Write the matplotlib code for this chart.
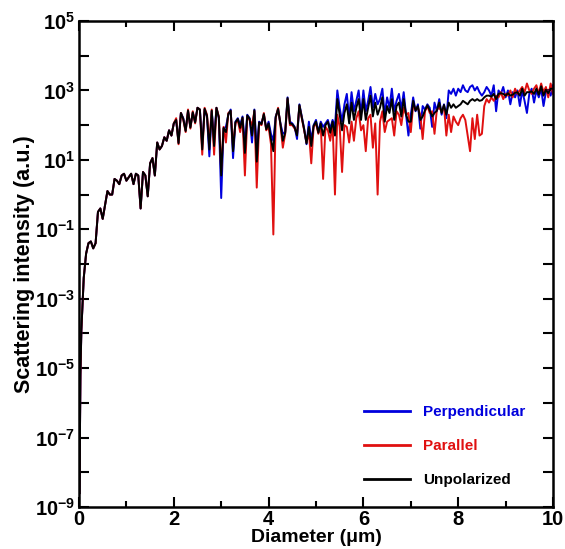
import numpy as np
import matplotlib
matplotlib.use("Agg")
import matplotlib.pyplot as plt
from matplotlib.ticker import FixedLocator, FixedFormatter, NullFormatter

plt.rcParams['font.family'] = ['Liberation Sans', 'DejaVu Sans']
plt.rcParams['font.weight'] = 'bold'
plt.rcParams['mathtext.fontset'] = 'custom'
plt.rcParams['mathtext.rm'] = 'Liberation Sans:bold'
plt.rcParams['mathtext.it'] = 'Liberation Sans:bold'
plt.rcParams['mathtext.bf'] = 'Liberation Sans:bold'

# Diameter grid (um)
diam_start = [0.01, 0.02, 0.03]
diam_step = 0.05

# log10 intensity, common part (0.01 .. 2.00 um), identical for all polarisations
common_log = [-8.6, -6.8, -5.2,
              -3.9, -2.4, -1.7, -1.4, -1.35, -1.55, -1.4, -0.5, -0.4, -0.7,
              -0.3, 0.1, 0.0, 0.0, 0.45, 0.4, 0.3, 0.55, 0.6, 0.4,
              0.5, 0.6, 0.3, 0.6, 0.55, -0.4, 0.65, 0.55, -0.05, 0.9,
              1.05, 0.55, 1.5, 1.3, 1.4, 1.65, 1.55, 1.85, 1.7, 2.05]

# log10 intensity from 2.05 to 10.00 um
perp_log = [
    2.15, 1.5, 2.35, 2.2, 1.85, 2.4, 1.95, 2.35, 2.1, 2.5,
    2.45, 1.45, 2.45, 2.25, 1.1, 2.4, 1.6, 2.5, 2.2, -0.1,
    1.9, 1.95, 2.3, 2.45, 1.05, 2.1, 2.2, 2.0, 2.25, 1.45,
    2.3, 2.2, 1.5, 2.45, 1.3, 2.1, 2.05, 2.3, 1.9, 2.1,
    1.75, 1.55, 2.25, 2.45, 2.05, 1.75, 1.8, 2.8, 2.1, 2.05,
    1.95, 1.6, 2.6, 2.25, 1.9, 1.45, 2.1, 1.55, 2.0, 2.15,
    1.8, 2.1, 1.95, 2.05, 2.15, 1.9, 2.15, 1.95, 3.0, 2.5,
    2.1, 2.6, 2.9, 2.2, 2.95, 2.4, 2.7, 3.0, 2.3, 3.0,
    2.4, 2.7, 3.1, 2.5, 2.9, 2.6, 2.75, 3.05, 2.3, 2.8,
    2.5, 3.05, 2.4, 2.7, 2.9, 2.45, 2.95, 2.3, 1.7, 2.3,
    2.8, 2.4, 2.6, 1.9, 2.55, 2.45, 2.6, 2.5, 1.95, 2.65,
    2.4, 2.75, 2.3, 2.6, 2.2, 3.0, 2.9, 3.05, 2.85, 3.05,
    2.95, 3.15, 3.0, 2.95, 3.1, 3.15, 3.0, 3.1, 2.95, 2.85,
    2.95, 3.1, 3.0, 2.85, 3.15, 2.4, 3.0, 2.9, 3.1, 2.8,
    3.0, 2.6, 2.95, 2.8, 3.0, 2.55, 3.0, 2.7, 2.35, 2.9,
    3.05, 2.65, 3.0, 2.8, 3.05, 2.55, 2.95, 3.0, 2.85, 3.15]

par_log = [
    2.2, 1.45, 2.35, 2.15, 1.8, 2.45, 1.9, 2.4, 2.05, 2.5,
    2.45, 1.15, 2.5, 2.3, 1.5, 2.45, 1.15, 2.5, 2.25, 0.7,
    1.95, 1.5, 2.35, 2.4, 1.4, 2.05, 2.15, 1.8, 2.2, 0.55,
    2.25, 2.15, 2.0, 2.4, 0.2, 2.05, 2.0, 2.35, 1.85, 1.95,
    1.45, -1.15, 2.2, 2.5, 2.0, 1.35, 1.75, 2.75, 2.0, 2.0,
    1.9, 1.75, 2.55, 2.2, 1.85, 1.5, 1.8, 0.9, 1.95, 2.05,
    1.75, 2.0, 0.45, 1.95, 1.85, 1.55, 2.05, 0.0, 2.3, 1.95,
    0.65, 2.0, 1.95, 1.5, 2.1, 1.55, 2.2, 2.4, 1.85, 2.0,
    1.25, 2.2, 2.3, 1.35, 2.05, 0.0, 2.1, 2.4, 1.8, 2.1,
    2.15, 2.2, 1.7, 2.4, 2.3, 2.0, 2.5, 2.3, 2.35, 1.8,
    2.6, 2.45, 2.5, 2.3, 1.6, 2.4, 2.55, 2.35, 2.4, 1.75,
    2.45, 2.5, 2.4, 2.55, 1.7, 2.3, 1.8, 2.25, 2.1, 2.0,
    2.2, 2.3, 2.15, 1.7, 1.25, 2.2, 1.6, 2.3, 1.7, 1.75,
    2.55, 2.75, 2.65, 2.8, 2.7, 2.85, 2.8, 2.95, 2.75, 2.9,
    2.85, 3.0, 2.8, 3.05, 2.9, 3.0, 3.1, 2.95, 3.2, 3.0,
    2.9, 3.05, 3.15, 2.9, 3.2, 2.95, 3.1, 2.8, 3.2, 2.9]

unpol_log = [
    2.15, 1.48, 2.35, 2.18, 1.83, 2.42, 1.93, 2.37, 2.08, 2.5,
    2.45, 1.3, 2.47, 2.27, 1.3, 2.42, 1.4, 2.5, 2.22, 0.55,
    1.92, 1.8, 2.32, 2.42, 1.25, 2.08, 2.18, 1.92, 2.22, 1.2,
    2.28, 2.18, 1.7, 2.43, 0.95, 2.08, 2.03, 2.32, 1.88, 2.05,
    1.6, 1.25, 2.23, 2.47, 2.03, 1.55, 1.78, 2.78, 2.05, 2.03,
    1.93, 1.7, 2.58, 2.22, 1.88, 1.47, 1.95, 1.4, 1.98, 2.1,
    1.78, 2.05, 1.7, 2.0, 2.1, 1.78, 2.1, 1.7, 2.75, 2.3,
    1.85, 2.35, 2.6, 2.05, 2.65, 2.15, 2.5, 2.75, 2.15, 2.75,
    2.15, 2.5, 2.85, 2.25, 2.65, 2.3, 2.5, 2.8, 2.1, 2.55,
    2.35, 2.75, 2.15, 2.55, 2.65, 2.25, 2.75, 2.3, 2.1, 2.1,
    2.7, 2.42, 2.55, 2.15, 2.25, 2.43, 2.57, 2.42, 2.25, 2.35,
    2.42, 2.65, 2.35, 2.58, 2.3, 2.65, 2.5, 2.6, 2.5, 2.55,
    2.6, 2.7, 2.65, 2.6, 2.7, 2.75, 2.7, 2.75, 2.7, 2.72,
    2.8, 2.85, 2.85, 2.82, 2.9, 2.75, 2.9, 2.92, 2.9, 2.85,
    2.92, 2.85, 2.88, 2.93, 2.95, 2.85, 3.05, 2.85, 2.95, 2.95,
    2.97, 2.9, 3.05, 2.88, 3.12, 2.85, 3.02, 2.92, 3.05, 3.05]

n_common = len(common_log) - len(diam_start)
x_common = np.concatenate([diam_start, diam_step * np.arange(1, n_common + 1)])
x_rest = 2.0 + diam_step * np.arange(1, len(perp_log) + 1)
diam = np.concatenate([x_common, x_rest])

perp = 10.0 ** np.array(common_log + perp_log)
par = 10.0 ** np.array(common_log + par_log)
unpol = 10.0 ** np.array(common_log + unpol_log)

fig = plt.figure(figsize=(5.65, 5.49), dpi=100)
ax = fig.add_axes([79/565, 42/549, 474/565, 486/549])

ax.plot(diam, perp, color='#0000dd', lw=1.4, label='Perpendicular')
ax.plot(diam, par, color='#e01010', lw=1.4, label='Parallel')
ax.plot(diam, unpol, color='black', lw=1.4, label='Unpolarized')

ax.set_yscale('log')
ax.set_xlim(0, 10)
ax.set_ylim(1e-9, 1e5)

yt = [10.0**k for k in range(-9, 6)]
ax.yaxis.set_major_locator(FixedLocator(yt))
ax.yaxis.set_major_formatter(FixedFormatter(
    [r'$10^{%d}$' % k if (k % 2 != 0) else '' for k in range(-9, 6)]))
ax.yaxis.set_minor_locator(FixedLocator([]))
ax.yaxis.set_minor_formatter(NullFormatter())

ax.set_xticks([0, 2, 4, 6, 8, 10])
ax.set_xticks([1, 3, 5, 7, 9], minor=True)

ax.tick_params(axis='both', which='major', direction='in', length=7, width=1.5,
               top=True, right=True, labelsize=14.5, pad=3)
ax.tick_params(axis='x', which='major', pad=2)
ax.tick_params(axis='x', which='minor', direction='in', length=4, width=1.5,
               top=True, bottom=True)
for lab in ax.get_xticklabels() + ax.get_yticklabels():
    lab.set_fontweight('bold')
for s in ax.spines.values():
    s.set_linewidth(1.8)

ax.set_xlabel('Diameter (\u03bcm)', fontsize=14, fontweight='bold', labelpad=0)
ax.set_ylabel('Scattering intensity (a.u.)', fontsize=15.5, fontweight='bold', labelpad=0)

leg = ax.legend(loc='lower left', bbox_to_anchor=(0.572, 0.013), frameon=False,
                handlelength=3.0, handletextpad=0.9, labelspacing=1.3,
                prop={'family': 'Liberation Sans', 'weight': 'bold', 'size': 11})
for t, c in zip(leg.get_texts(), ['#0000dd', '#e01010', 'black']):
    t.set_color(c)
for h in leg.get_lines():
    h.set_linewidth(2)

fig.savefig('out.png', dpi=100)
